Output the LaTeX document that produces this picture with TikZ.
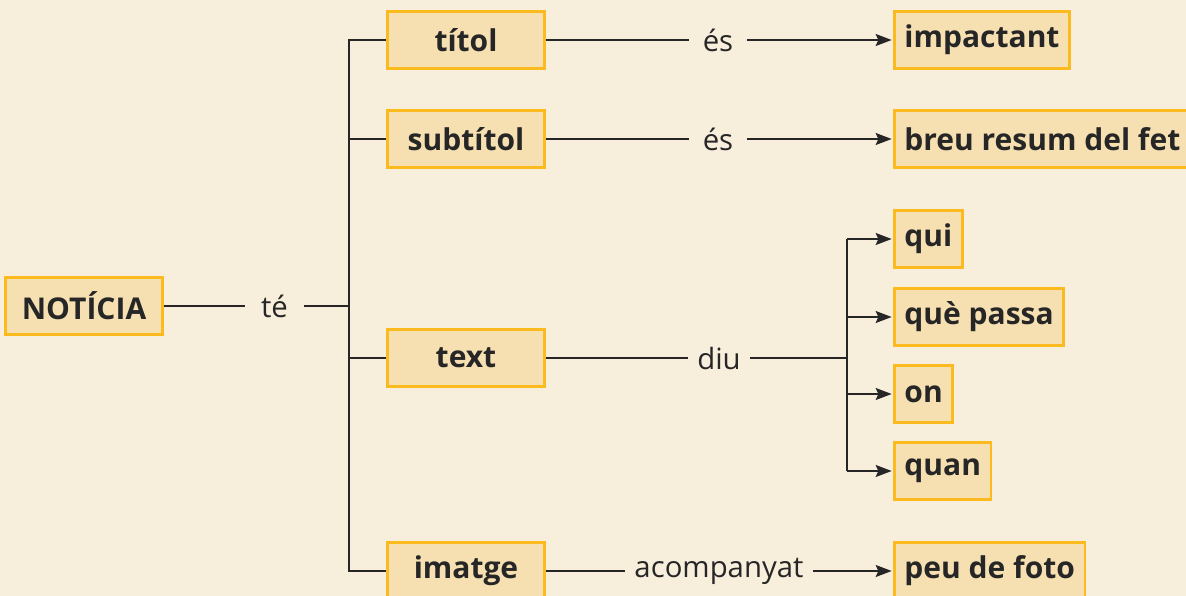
\documentclass[tikz,border=0pt]{standalone}
\usepackage{fontspec}
\setmainfont{Open Sans}
\usetikzlibrary{arrows.meta}
\definecolor{bg}{RGB}{248,238,220}
\definecolor{boxfill}{RGB}{246,224,178}
\definecolor{boxline}{RGB}{251,186,30}
\definecolor{ink}{RGB}{38,38,38}
\begin{document}
\begin{tikzpicture}[x=0.75pt,y=-0.75pt,
  lab/.style={text=ink, font=\fontsize{22}{26}\selectfont, inner ysep=2pt},
  box/.style={draw=boxline, fill=boxfill, line width=2.2pt, minimum height=43pt,
    inner xsep=7.5pt, font=\fontsize{22.5}{27}\selectfont\bfseries, text=ink},
  lbox/.style={box, minimum width=118pt},
  rbox/.style={box, anchor=west},
  conn/.style={draw=ink, line width=1.1pt},
  arr/.style={conn, -{Stealth[length=12pt,width=9pt,inset=2pt]}, shorten >=1pt}]
\useasboundingbox (0,0) rectangle (1186,596);
\clip (0,0) rectangle (1186,596);
\fill[bg] (0,0) rectangle (1186,596);
% left column
\node[lbox] (noticia) at (84,306) {NOTÍCIA};
\node[lbox] (titol) at (466,40) {títol};
\node[lbox] (subtitol) at (466,139) {subtítol};
\node[lbox] (text) at (466,358) {text};
\node[lbox] (imatge) at (466,571) {imatge};
% right column
\node[rbox] (impactant) at (893,40) {impactant};
\node[rbox] (breu) at (893,139) {breu resum del fet};
\node[rbox] (qui) at (893,239) {qui};
\node[rbox] (que) at (893,317) {què passa};
\node[rbox] (on) at (893,394) {on};
\node[rbox] (quan) at (893,471) {quan};
\node[rbox] (peu) at (893,571) {peu de foto};
% labels
\node[lab, inner xsep=12pt] (te) at (274.5,306) {té};
\node[lab, inner xsep=10.5pt] (es1) at (718,40) {és};
\node[lab, inner xsep=10.5pt] (es2) at (718,139) {és};
\node[lab, inner xsep=7pt] (diu) at (719,358) {diu};
\node[lab, inner xsep=7pt] (acomp) at (719,571) {acompanyat};
\coordinate (spine) at (349,0);
\coordinate (fork) at (847,0);
% té and spine
\draw[conn] (noticia.east) -- (te.west);
\draw[conn] (te.east) -- (te.east -| spine);
\draw[conn] (titol.west) -- (titol.west -| spine) -- (imatge.west -| spine) -- (imatge.west);
\draw[conn] (subtitol.west) -- (subtitol.west -| spine);
\draw[conn] (text.west) -- (text.west -| spine);
% és
\draw[conn] (titol.east) -- (es1.west);
\draw[arr] (es1.east) -- (impactant.west);
\draw[conn] (subtitol.east) -- (es2.west);
\draw[arr] (es2.east) -- (breu.west);
% diu
\draw[conn] (text.east) -- (diu.west);
\draw[conn] (diu.east) -- (diu.east -| fork);
\draw[conn] (qui.west -| fork) -- (quan.west -| fork);
\draw[arr] (qui.west -| fork) -- (qui.west);
\draw[arr] (que.west -| fork) -- (que.west);
\draw[arr] (on.west -| fork) -- (on.west);
\draw[arr] (quan.west -| fork) -- (quan.west);
% acompanyat
\draw[conn] (imatge.east) -- (acomp.west);
\draw[arr] (acomp.east) -- (peu.west);
\end{tikzpicture}
\end{document}
